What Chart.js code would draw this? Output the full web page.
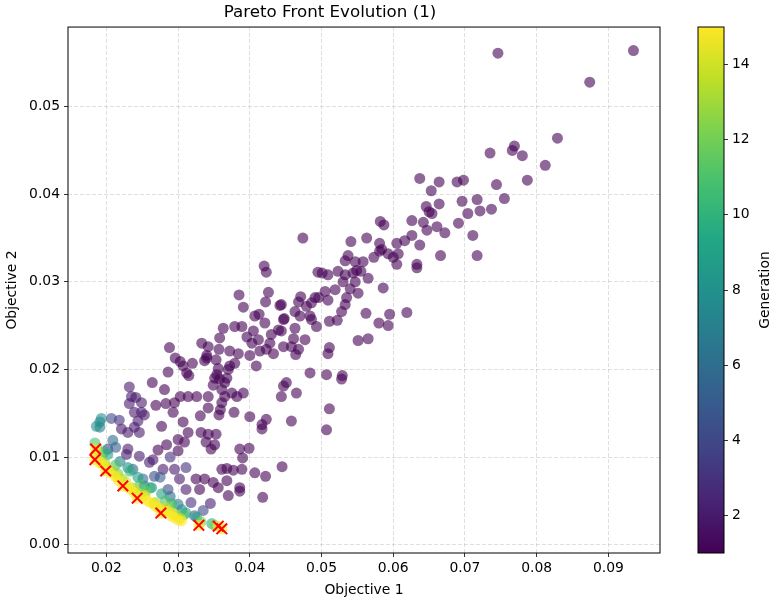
<!DOCTYPE html>
<html>
<head>
<meta charset="utf-8">
<title>Pareto Front Evolution (1)</title>
<script src="https://cdn.jsdelivr.net/npm/chart.js@4.4.0/dist/chart.umd.min.js"></script>
<style>
  body { margin: 0; background: #fff; }
  #wrap { position: relative; width: 773px; height: 600px; }
  canvas { position: absolute; top: 0; }
  #main { left: 0; }
  #cbar { left: 690px; }
</style>
</head>
<body>
<div id="wrap">
  <canvas id="main" width="690" height="600"></canvas>
  <canvas id="cbar" width="83" height="600"></canvas>
</div>
<script>
// points per generation, [objective 1, objective 2]
const gen1 = [
  [0.0746,0.0561],[0.0935,0.0564],[0.0874,0.0528],[0.0829,0.0464],[0.0769,0.0455],[0.0766,0.0450],[0.0735,0.0447],
  [0.0780,0.0444],[0.0812,0.0433],[0.0637,0.0418],[0.0664,0.0414],[0.0689,0.0414],[0.0698,0.0416],[0.0744,0.0411],
  [0.0787,0.0416],[0.0653,0.0404],[0.0755,0.0395],[0.0696,0.0392],[0.0717,0.0394],[0.0646,0.0386],[0.0654,0.0378],
  [0.0664,0.0389],[0.0721,0.0381],[0.0737,0.0383],[0.0704,0.0378],[0.0642,0.0368],[0.0661,0.0363],[0.0691,0.0367],
  [0.0650,0.0380],[0.0582,0.0369],[0.0587,0.0365],[0.0626,0.0370],[0.0647,0.0359],[0.0672,0.0356],[0.0711,0.0353],
  [0.0474,0.0350],[0.0541,0.0346],[0.0563,0.0350],[0.0581,0.0344],[0.0626,0.0353],[0.0616,0.0347],[0.0605,0.0344],
  [0.0637,0.0342],[0.0584,0.0337],[0.0593,0.0332],[0.0600,0.0328],[0.0607,0.0332],[0.0605,0.0320],[0.0573,0.0328],
  [0.0537,0.0330],[0.0533,0.0324],[0.0547,0.0323],[0.0558,0.0323],[0.0633,0.0320],[0.0633,0.0316],[0.0666,0.0330],
  [0.0717,0.0330],[0.0495,0.0311],[0.0509,0.0308],[0.0523,0.0312],[0.0549,0.0313],[0.0565,0.0304],[0.0581,0.0335],
  [0.0501,0.0310],[0.0533,0.0308],[0.0544,0.0310],[0.0555,0.0312],[0.0530,0.0300],[0.0547,0.0300],[0.0540,0.0292],
  [0.0551,0.0287],[0.0586,0.0293],[0.0505,0.0289],[0.0519,0.0291],[0.0509,0.0279],[0.0491,0.0282],[0.0496,0.0282],
  [0.0471,0.0283],[0.0468,0.0277],[0.0479,0.0272],[0.0486,0.0276],[0.0535,0.0282],[0.0533,0.0274],[0.0528,0.0266],
  [0.0562,0.0264],[0.0595,0.0263],[0.0619,0.0265],[0.0444,0.0274],[0.0463,0.0266],[0.0447,0.0257],[0.0470,0.0261],
  [0.0484,0.0261],[0.0486,0.0257],[0.0493,0.0249],[0.0511,0.0255],[0.0522,0.0256],[0.0580,0.0253],[0.0593,0.0250],
  [0.0463,0.0247],[0.0444,0.0244],[0.0461,0.0235],[0.0477,0.0234],[0.0447,0.0226],[0.0458,0.0226],[0.0468,0.0223],
  [0.0464,0.0217],[0.0551,0.0233],[0.0565,0.0235],[0.0511,0.0225],[0.0509,0.0218],[0.0484,0.0196],[0.0507,0.0194],
  [0.0529,0.0193],[0.0451,0.0185],[0.0447,0.0181],[0.0444,0.0169],[0.0420,0.0318],[0.0423,0.0311],[0.0385,0.0285],
  [0.0426,0.0288],[0.0422,0.0277],[0.0442,0.0273],[0.0391,0.0271],[0.0407,0.0261],[0.0413,0.0263],[0.0448,0.0258],
  [0.0421,0.0253],[0.0363,0.0247],[0.0379,0.0249],[0.0389,0.0249],[0.0405,0.0244],[0.0440,0.0245],[0.0430,0.0240],
  [0.0358,0.0236],[0.0396,0.0237],[0.0412,0.0234],[0.0403,0.0230],[0.0428,0.0230],[0.0333,0.0230],[0.0342,0.0226],
  [0.0357,0.0223],[0.0372,0.0221],[0.0384,0.0218],[0.0400,0.0216],[0.0414,0.0221],[0.0423,0.0223],[0.0433,0.0218],
  [0.0288,0.0225],[0.0340,0.0216],[0.0340,0.0213],[0.0337,0.0210],[0.0353,0.0211],[0.0296,0.0213],[0.0303,0.0209],
  [0.0307,0.0204],[0.0320,0.0207],[0.0312,0.0196],[0.0315,0.0193],[0.0286,0.0197],[0.0356,0.0201],[0.0354,0.0194],
  [0.0351,0.0190],[0.0370,0.0200],[0.0372,0.0204],[0.0368,0.0190],[0.0379,0.0207],[0.0409,0.0204],[0.0264,0.0185],
  [0.0281,0.0177],[0.0349,0.0182],[0.0361,0.0177],[0.0375,0.0173],[0.0391,0.0173],[0.0303,0.0169],[0.0314,0.0169],
  [0.0326,0.0169],[0.0342,0.0169],[0.0365,0.0169],[0.0382,0.0169],[0.0465,0.0173],[0.0358,0.0189],[0.0365,0.0185],
  [0.0269,0.0159],[0.0283,0.0161],[0.0295,0.0162],[0.0293,0.0151],[0.0361,0.0162],[0.0342,0.0156],[0.0359,0.0154],
  [0.0378,0.0151],[0.0331,0.0147],[0.0357,0.0148],[0.0400,0.0146],[0.0423,0.0143],[0.0417,0.0137],[0.0417,0.0132],
  [0.0458,0.0141],[0.0511,0.0155],[0.0507,0.0131],[0.0528,0.0189],[0.0307,0.0140],[0.0314,0.0128],[0.0309,0.0117],
  [0.0300,0.0120],[0.0332,0.0128],[0.0342,0.0126],[0.0353,0.0126],[0.0346,0.0109],[0.0339,0.0117],[0.0351,0.0114],
  [0.0277,0.0135],[0.0284,0.0114],[0.0386,0.0109],[0.0399,0.0110],[0.0390,0.0099],[0.0272,0.0108],[0.0300,0.0107],
  [0.0325,0.0075],[0.0337,0.0075],[0.0361,0.0086],[0.0368,0.0087],[0.0377,0.0085],[0.0389,0.0086],[0.0407,0.0082],
  [0.0422,0.0078],[0.0445,0.0089],[0.0349,0.0071],[0.0356,0.0065],[0.0368,0.0073],[0.0330,0.0063],[0.0386,0.0065],
  [0.0386,0.0061],[0.0370,0.0056],[0.0418,0.0054]
];
const gen2 = [
  [0.0232,0.0180],[0.0235,0.0169],[0.0241,0.0168],[0.0232,0.0161],[0.0249,0.0162],[0.0239,0.0151],[0.0249,0.0151],
  [0.0253,0.0148],[0.0244,0.0141],[0.0221,0.0132],[0.0230,0.0128],[0.0239,0.0134],[0.0246,0.0128],[0.0230,0.0109],
  [0.0228,0.0103],[0.0246,0.0101],[0.0265,0.0097],[0.0260,0.0094],[0.0279,0.0086],[0.0295,0.0086],[0.0302,0.0075],
  [0.0311,0.0063],[0.0345,0.0047]
];
const gen3 = [[0.0318,0.0048],[0.0218,0.0142],[0.0311,0.0088],[0.0289,0.0100]];
const gen4 = [[0.0207,0.0144],[0.0267,0.0078],[0.0335,0.0039],[0.0286,0.0063],[0.0202,0.0109]];
const gen5 = [[0.0237,0.0086],[0.0323,0.0033],[0.0213,0.0111],[0.0275,0.0077]];
const gen6 = [[0.0251,0.0075],[0.0209,0.0119],[0.0289,0.0055]];
const gen7 = [[0.0253,0.0067],[0.0191,0.0140],[0.0191,0.0134],[0.0219,0.0095],[0.0300,0.0046]];
const gen8 = [[0.0186,0.0135],[0.0193,0.0144],[0.0230,0.0088],[0.0263,0.0065],[0.0305,0.0040]];
const gen9 = [[0.0202,0.0103],[0.0244,0.0077],[0.0277,0.0058],[0.0311,0.0036],[0.0326,0.0031]];
const gen10 = [[0.0197,0.0106],[0.0233,0.0084],[0.0261,0.0065],[0.0291,0.0047],[0.0347,0.0024]];
const gen11 = [[0.0184,0.0116],[0.0213,0.0091],[0.0247,0.0068],[0.0282,0.0050],[0.0308,0.0034]];
const gen12 = [[0.0188,0.0109],[0.0216,0.0081],[0.0255,0.0061],[0.0289,0.0043],[0.0332,0.0026],[0.0351,0.0022]];
const gen13 = [
  [0.0191,0.0100],[0.0210,0.0084],[0.0237,0.0065],[0.0268,0.0048],[0.0297,0.0034],
  [0.0198,0.0093],[0.0222,0.0075],[0.0248,0.0058],[0.0276,0.0042]
];
const gen14 = [
  [0.0185,0.0103],[0.0202,0.0088],[0.0227,0.0072],[0.0254,0.0056],[0.0283,0.0042],[0.0303,0.0030],
  [0.0193,0.0094],[0.0215,0.0078],[0.0240,0.0062],[0.0266,0.0047],[0.0292,0.0036]
];
const gen15 = [
  [0.0185,0.0109],[0.0184,0.0097],[0.0199,0.0084],[0.0223,0.0067],[0.0243,0.0053],[0.0276,0.0036],[0.0329,0.0022],
  [0.0356,0.0021],[0.0361,0.0018],[0.0195,0.0091],[0.0212,0.0078],[0.0234,0.0063],[0.0261,0.0048],[0.0268,0.0044],
  [0.0286,0.0038],[0.0294,0.0031],[0.0300,0.0028],[0.0305,0.0027],[0.0251,0.0054],[0.0190,0.0094],[0.0205,0.0082],
  [0.0217,0.0073],[0.0229,0.0066],[0.0239,0.0059],[0.0257,0.0050],[0.0273,0.0042],[0.0281,0.0037],[0.0290,0.0033]
];
const genSeries = [gen1, gen2, gen3, gen4, gen5, gen6, gen7, gen8, gen9, gen10, gen11, gen12, gen13, gen14, gen15];
const generations = [1, 2, 3, 4, 5, 6, 7, 8, 9, 10, 11, 12, 13, 14, 15];

// final pareto front
const paretoX = [0.0185, 0.0184, 0.0199, 0.0223, 0.0243, 0.0276, 0.0329, 0.0356, 0.0361];
const paretoY = [0.0109, 0.0097, 0.0084, 0.0067, 0.0053, 0.0036, 0.0022, 0.0021, 0.0018];

const xTicks = [0.02, 0.03, 0.04, 0.05, 0.06, 0.07, 0.08, 0.09];
const yTicks = [0.00, 0.01, 0.02, 0.03, 0.04, 0.05];
const cbTicks = [2, 4, 6, 8, 10, 12, 14];
const genMin = 1, genMax = 15;

const VIRIDIS = ["#440154", "#482475", "#414487", "#355f8d", "#2a788e", "#21918c",
                 "#22a884", "#44bf70", "#7ad151", "#bddf26", "#fde725"];

function hexToRgb(h) {
  return [parseInt(h.slice(1, 3), 16), parseInt(h.slice(3, 5), 16), parseInt(h.slice(5, 7), 16)];
}
function viridis(t, a) {
  t = Math.min(1, Math.max(0, t));
  const p = t * (VIRIDIS.length - 1);
  const i = Math.min(Math.floor(p), VIRIDIS.length - 2);
  const f = p - i;
  const c0 = hexToRgb(VIRIDIS[i]), c1 = hexToRgb(VIRIDIS[i + 1]);
  const c = c0.map((v, k) => Math.round(v + (c1[k] - v) * f));
  return `rgba(${c[0]},${c[1]},${c[2]},${a})`;
}

Chart.defaults.font.family = "'DejaVu Sans', sans-serif";
Chart.defaults.font.size = 13.9;
Chart.defaults.color = "#000";

const gridColor = "rgba(176,176,176,0.5)";

const datasets = genSeries.map((pts, i) => ({
  label: "Generation " + generations[i],
  data: pts.map(p => ({ x: p[0], y: p[1] })),
  pointRadius: 5.5,
  pointHoverRadius: 5.5,
  pointBorderWidth: 0,
  backgroundColor: viridis((generations[i] - genMin) / (genMax - genMin), 0.6),
  order: 20 - generations[i],
}));
datasets.push({
  label: "Pareto front",
  data: paretoX.map((x, i) => ({ x: x, y: paretoY[i] })),
  pointStyle: "crossRot",
  pointRadius: 7.5,
  pointHoverRadius: 7.5,
  borderColor: "#ff0000",
  backgroundColor: "#ff0000",
  pointBorderWidth: 2,
  order: 0,
});

const framePlugin = {
  id: "frame",
  afterDraw(chart) {
    const { ctx, chartArea: a } = chart;
    ctx.save();
    ctx.strokeStyle = "#000";
    ctx.lineWidth = 1;
    ctx.strokeRect(a.left, a.top, a.right - a.left, a.bottom - a.top);
    ctx.restore();
  },
};

new Chart(document.getElementById("main"), {
  type: "scatter",
  data: { datasets },
  options: {
    responsive: false,
    animation: false,
    layout: { padding: { left: 0, right: 30, top: 0, bottom: 0 } },
    plugins: {
      legend: { display: false },
      tooltip: { enabled: false },
      title: {
        display: true,
        text: "Pareto Front Evolution (1)",
        color: "#000",
        font: { size: 16.7, weight: "normal" },
        padding: { top: 3, bottom: 4 },
      },
    },
    scales: {
      x: {
        type: "linear",
        min: 0.01465,
        max: 0.0972,
        afterBuildTicks: s => { s.ticks = xTicks.map(v => ({ value: v })); },
        afterFit: s => { s.height = 47; },
        ticks: { callback: v => v.toFixed(2), padding: 3, maxRotation: 0, autoSkip: false },
        grid: { color: gridColor, lineWidth: 0.8, tickColor: "#000", tickLength: 4, tickWidth: 0.8 },
        border: { display: false, dash: [4, 2] },
        title: { display: true, text: "Objective 1", padding: { top: 0, bottom: 1 } },
      },
      y: {
        type: "linear",
        min: -0.00096,
        max: 0.05909,
        afterBuildTicks: s => { s.ticks = yTicks.map(v => ({ value: v })); },
        afterFit: s => { s.width = 68; },
        ticks: { callback: v => v.toFixed(2), padding: 4, autoSkip: false },
        grid: { color: gridColor, lineWidth: 0.8, tickColor: "#000", tickLength: 4, tickWidth: 0.8 },
        border: { display: false, dash: [4, 2] },
        title: { display: true, text: "Objective 2", padding: { top: 4, bottom: 0 } },
      },
    },
  },
  plugins: [framePlugin],
});

// colorbar
const cbarPlugin = {
  id: "cbarFrame",
  afterDraw(chart) {
    const { ctx, chartArea: a } = chart;
    ctx.save();
    ctx.strokeStyle = "#000";
    ctx.lineWidth = 1;
    ctx.strokeRect(a.left, a.top, a.right - a.left, a.bottom - a.top);
    ctx.translate(75, (a.top + a.bottom) / 2);
    ctx.rotate(-Math.PI / 2);
    ctx.fillStyle = "#000";
    ctx.font = "13.9px 'DejaVu Sans', sans-serif";
    ctx.textAlign = "center";
    ctx.textBaseline = "middle";
    ctx.fillText("Generation", 0, 0);
    ctx.restore();
  },
};

new Chart(document.getElementById("cbar"), {
  type: "bar",
  data: {
    labels: [""],
    datasets: [{
      data: [[genMin, genMax]],
      backgroundColor: (c) => {
        const a = c.chart.chartArea;
        if (!a) return VIRIDIS[0];
        const g = c.chart.ctx.createLinearGradient(0, a.bottom, 0, a.top);
        VIRIDIS.forEach((col, i) => g.addColorStop(i / (VIRIDIS.length - 1), col));
        return g;
      },
      borderWidth: 0,
      barPercentage: 1,
      categoryPercentage: 1,
    }],
  },
  options: {
    responsive: false,
    animation: false,
    layout: { padding: { left: 8, right: 0, top: 27, bottom: 47 } },
    plugins: { legend: { display: false }, tooltip: { enabled: false } },
    scales: {
      x: { display: false },
      y: {
        position: "right",
        min: genMin,
        max: genMax,
        afterBuildTicks: s => { s.ticks = cbTicks.map(v => ({ value: v })); },
        afterFit: s => { s.width = 49; },
        ticks: { padding: 4, autoSkip: false },
        grid: { drawOnChartArea: false, tickColor: "#000", tickLength: 4, tickWidth: 0.8 },
        border: { display: false },
      },
    },
  },
  plugins: [cbarPlugin],
});
</script>
</body>
</html>
